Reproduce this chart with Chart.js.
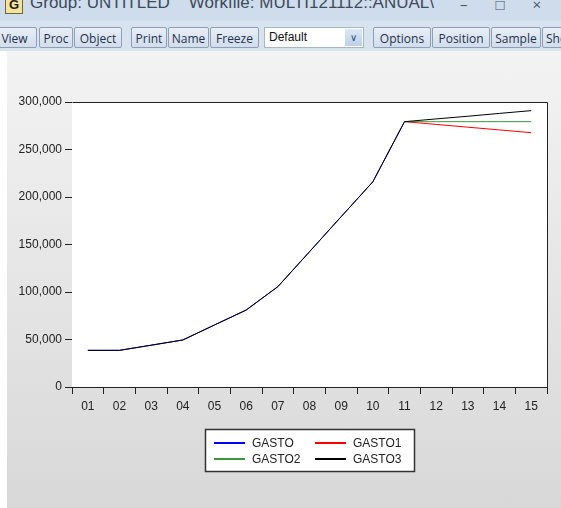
<!DOCTYPE html>
<html>
<head>
<meta charset="utf-8">
<script src="https://cdn.jsdelivr.net/npm/chart.js@4/dist/chart.umd.min.js"></script>
<style>
  body { margin: 0; width: 561px; height: 508px; overflow: hidden; background: #fff; position: relative; font-family: "Open Sans", "Liberation Sans", sans-serif; }
  #titlebar { position: absolute; left: 0; top: 0; width: 561px; height: 21px; background: #cfdcec; overflow: hidden; }
  #titletext { position: absolute; left: 30px; top: -7px; font-size: 17px; color: #3d4a5a; white-space: pre; font-family: "Liberation Sans", sans-serif; }
  #gicon { position: absolute; left: 5px; top: -4px; width: 16px; height: 16px; background: #f6e39a; border: 1px solid #6f6440; font: bold 13px "Liberation Sans", sans-serif; text-align: center; line-height: 16px; color: #222; }
  #wbtns { position: absolute; right: 8px; top: -6px; font-size: 15px; color: #4a5566; letter-spacing: 12px; }
  #toolbar { position: absolute; left: 0; top: 21px; width: 561px; height: 30px; background: #d8e3f0; }
  .btn { position: absolute; top: 6px; height: 21px; border: 1px solid #8e9fb5; border-radius: 2px; background: linear-gradient(#e8eef6, #d2ddeb); font-size: 12px; line-height: 21px; text-align: center; color: #1d3250; box-sizing: border-box; white-space: nowrap; overflow: hidden; }
  #combo { position: absolute; left: 264px; top: 6px; width: 100px; height: 21px; background: #fff; border: 1px solid #a9b6c6; box-sizing: border-box; font: 12px "Liberation Sans", sans-serif; line-height: 19px; padding-left: 4px; color: #111; }
  #combo span { position: absolute; right: 1px; top: 1px; width: 17px; height: 17px; background: linear-gradient(#dbe7f5, #bdd0e8); color: #2c4a78; font-size: 10px; line-height: 17px; text-align: center; }
  #panel { position: absolute; left: 7px; top: 51px; width: 554px; height: 457px; background: linear-gradient(#f3f3f3, #d8d8d8); }
  #chart { position: absolute; left: 0; top: 52px; }
</style>
</head>
<body>
<div id="titlebar">
  <div id="gicon">G</div>
  <div id="titletext">Group: UNTITLED    Workfile: MULTI121112::ANUAL\</div>
  <div id="wbtns">– □ ×</div>
</div>
<div id="toolbar">
  <div class="btn" style="left:-8px;width:45px;">View</div>
  <div class="btn" style="left:39px;width:34px;">Proc</div>
  <div class="btn" style="left:74px;width:48px;">Object</div>
  <div class="btn" style="left:131px;width:36px;">Print</div>
  <div class="btn" style="left:168px;width:41px;">Name</div>
  <div class="btn" style="left:210px;width:49px;">Freeze</div>
  <div id="combo">Default<span>&#8744;</span></div>
  <div class="btn" style="left:373px;width:58px;">Options</div>
  <div class="btn" style="left:432px;width:58px;">Position</div>
  <div class="btn" style="left:491px;width:50px;">Sample</div>
  <div class="btn" style="left:542px;width:40px;text-align:left;padding-left:3px;">Show</div>
</div>
<div id="panel"></div>
<canvas id="chart" width="561" height="456"></canvas>
<script>
// data
const years = ['01', '02', '03', '04', '05', '06', '07', '08', '09', '10', '11', '12', '13', '14', '15'];
const gasto  = [38600, 38600, 44000, 49500, 65300, 81000, 105600, 142400, 179300, 216000, 279300, null, null, null, null];
const gasto1 = [null, null, null, null, null, null, null, null, null, null, 279300, 276400, 273500, 270600, 267700];
const gasto2 = [null, null, null, null, null, null, null, null, null, null, 279300, 279300, 279300, 279300, 279300];
const gasto3 = [38600, 38600, 44000, 49500, 65300, 81000, 105600, 142400, 179300, 216000, 279300, 282200, 285000, 288000, 290900];
const seriesNames = ['GASTO', 'GASTO1', 'GASTO2', 'GASTO3'];
const seriesColors = ['#0000ff', '#ff0000', '#3a9a3a', '#000000'];
const yTicks = [0, 50000, 100000, 150000, 200000, 250000, 300000];

const tickFont = { family: 'Liberation Sans', size: 12 };

// white plot area + box around it
const frame = {
  id: 'frame',
  beforeDatasetsDraw(chart) {
    const a = chart.chartArea;
    chart.ctx.save();
    chart.ctx.fillStyle = '#fff';
    chart.ctx.fillRect(a.left, a.top, a.right - a.left, a.bottom - a.top);
    chart.ctx.restore();
  },
  afterDraw(chart) {
    const a = chart.chartArea;
    const ctx = chart.ctx;
    ctx.save();
    ctx.strokeStyle = '#222';
    ctx.lineWidth = 1;
    ctx.beginPath();
    ctx.moveTo(a.left + 0.5, a.top + 0.5);
    ctx.lineTo(a.right + 0.5, a.top + 0.5);
    ctx.lineTo(a.right + 0.5, a.bottom + 0.5);
    ctx.stroke();
    ctx.restore();
  }
};

// eviews style legend box, 2 columns
const legendBox = {
  id: 'legendBox',
  afterDraw(chart) {
    const a = chart.chartArea;
    const ctx = chart.ctx;
    const w = 209, h = 42;
    const x = Math.round((a.left + a.right) / 2 - w / 2);
    const y = Math.round(a.bottom + 42);
    ctx.save();
    ctx.fillStyle = '#fff';
    ctx.fillRect(x, y, w, h);
    ctx.strokeStyle = '#333';
    ctx.lineWidth = 1.5;
    ctx.strokeRect(x + 0.5, y + 0.5, w, h);
    ctx.font = '12px "Liberation Sans"';
    ctx.textBaseline = 'middle';
    chart.data.datasets.forEach(function(ds, i) {
      const col = i % 2, row = Math.floor(i / 2);
      const lx = x + 9 + col * 101;
      const ly = y + 13 + row * 16;
      ctx.fillStyle = ds.borderColor;
      ctx.fillRect(lx, ly, 31, 2);
      ctx.fillStyle = '#222';
      ctx.fillText(ds.label, lx + 38, ly + 1.5);
    });
    ctx.restore();
  }
};

const allData = [gasto, gasto1, gasto2, gasto3];

new Chart(document.getElementById('chart'), {
  type: 'line',
  data: {
    labels: years,
    datasets: seriesNames.map(function(name, i) {
      return {
        label: name,
        data: allData[i],
        borderColor: seriesColors[i],
        borderWidth: 1,
        pointRadius: 0,
        tension: 0,
        fill: false,
        order: seriesNames.length - i
      };
    })
  },
  options: {
    responsive: false,
    animation: false,
    layout: { padding: { top: 50, right: 14, bottom: 91, left: 0 } },
    plugins: { legend: { display: false }, tooltip: { enabled: false } },
    scales: {
      x: {
        type: 'category',
        offset: true,
        grid: { offset: true, drawOnChartArea: false, color: '#222', tickLength: 7 },
        border: { color: '#222' },
        ticks: { color: '#222', font: tickFont, padding: 5, maxRotation: 0, autoSkip: false },
        afterFit(s) { s.height = 30; }
      },
      y: {
        min: 0,
        max: 300000,
        afterBuildTicks(s) { s.ticks = yTicks.map(function(v) { return { value: v }; }); },
        grid: { drawOnChartArea: false, color: '#222', tickLength: 7 },
        border: { color: '#222' },
        ticks: {
          color: '#222',
          font: tickFont,
          padding: 3,
          callback: function(v) { return v.toLocaleString('en-US'); }
        },
        afterFit(s) { s.width = 72; }
      }
    }
  },
  plugins: [frame, legendBox]
});
</script>
</body>
</html>
